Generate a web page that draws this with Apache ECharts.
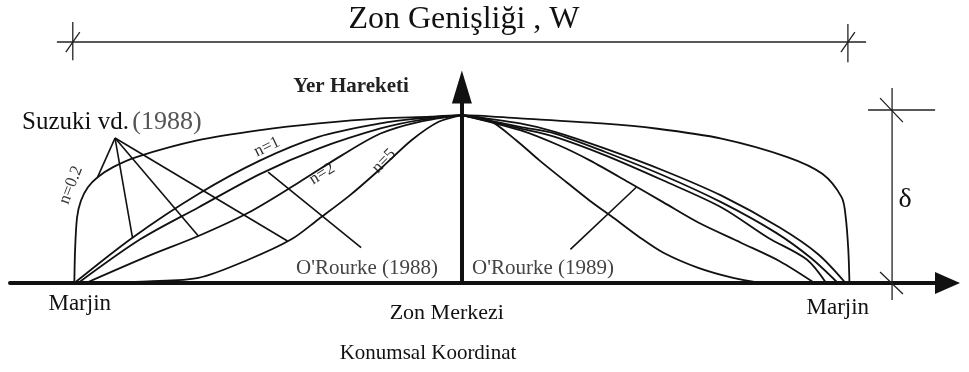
<!DOCTYPE html>
<html>
<head>
<meta charset="utf-8">
<script src="https://cdn.jsdelivr.net/npm/echarts@6/dist/echarts.min.js"></script>
<style>
  html, body { margin: 0; padding: 0; background: #fff; }
  #chart { width: 969px; height: 372px; }
</style>
</head>
<body>
<div id="chart"></div>
<script>
// x: position across the zone (-1 = marjin, 0 = zon merkezi, 1 = marjin)
// y: ground movement relative to the peak (delta = 1)
const tickValues = [-0.986, -0.039, 0.970]
const tickLabels = ['Marjin', 'Zon Merkezi', 'Marjin']

// Suzuki vd. (1988), n = 0.2 over the whole zone
const curveN02 = [[-1.00, 0], [-0.998, 0.20], [-0.993, 0.39], [-0.983, 0.49], [-0.965, 0.57], [-0.94, 0.63], [-0.90, 0.69],
  [-0.84, 0.75], [-0.68, 0.85], [-0.52, 0.91], [-0.37, 0.95], [-0.21, 0.98], [-0.08, 0.99], [0, 1],
  [0.15, 0.98], [0.36, 0.95], [0.50, 0.92], [0.67, 0.86], [0.84, 0.75], [0.93, 0.65], [0.98, 0.51],
  [0.99, 0.40], [0.997, 0.20], [1.0, 0]]

// left half
const curveN1a = [[-1.00, 0], [-0.85, 0.27], [-0.68, 0.53], [-0.52, 0.73], [-0.37, 0.87], [-0.21, 0.95], [-0.11, 0.98], [0, 1]]
const curveN1b = [[-0.99, 0], [-0.83, 0.26], [-0.68, 0.45], [-0.52, 0.65], [-0.37, 0.80], [-0.21, 0.92], [-0.11, 0.97], [0, 1]]
const curveN2 = [[-0.97, 0], [-0.81, 0.16], [-0.68, 0.28], [-0.55, 0.42], [-0.42, 0.60], [-0.31, 0.76], [-0.21, 0.89], [-0.11, 0.96], [0, 1]]
const curveN5 = [[-1.00, 0], [-0.81, 0.01], [-0.68, 0.03], [-0.55, 0.14], [-0.44, 0.26], [-0.37, 0.38], [-0.29, 0.52],
  [-0.21, 0.68], [-0.13, 0.85], [-0.06, 0.96], [0, 1]]

// right half (O'Rourke 1989 family)
const right1 = [[0, 1], [0.15, 0.95], [0.24, 0.90], [0.37, 0.80], [0.52, 0.67], [0.67, 0.52], [0.82, 0.33], [0.92, 0.17], [0.99, 0]]
const right2 = [[0, 1], [0.15, 0.93], [0.24, 0.89], [0.37, 0.78], [0.52, 0.64], [0.67, 0.48], [0.81, 0.30], [0.90, 0.15], [0.97, 0]]
const right3 = [[0, 1], [0.15, 0.92], [0.24, 0.87], [0.37, 0.76], [0.52, 0.61], [0.67, 0.45], [0.79, 0.27], [0.89, 0.14], [0.94, 0]]
const right4 = [[0, 1], [0.15, 0.91], [0.25, 0.82], [0.33, 0.73], [0.43, 0.60], [0.52, 0.48], [0.61, 0.36], [0.72, 0.24], [0.82, 0.13], [0.91, 0]]
const right5 = [[0, 1], [0.07, 0.97], [0.14, 0.85], [0.20, 0.73], [0.27, 0.60], [0.33, 0.49], [0.39, 0.39], [0.46, 0.27],
  [0.52, 0.18], [0.61, 0.09], [0.70, 0.03], [0.77, 0]]

// leader lines of the annotations
const suzukiLeaders = [
  [[-0.895, 0.863], [-0.94, 0.63]],
  [[-0.895, 0.863], [-0.85, 0.27]],
  [[-0.895, 0.863], [-0.68, 0.28]],
  [[-0.895, 0.863], [-0.45, 0.25]]
]
const orourke88Leader = [[-0.50, 0.66], [-0.26, 0.21]]
const orourke89Leader = [[0.45, 0.57], [0.28, 0.20]]

// dimension lines: zone width W and displacement delta
const widthDim = [
  [[-1.045, 1.435], [1.043, 1.435]],
  [[-1.004, 1.554], [-1.004, 1.327]],
  [[-1.022, 1.375], [-0.986, 1.494]],
  [[0.996, 1.542], [0.996, 1.315]],
  [[0.978, 1.375], [1.014, 1.494]]
]
const deltaDim = [
  [[1.110, 1.161], [1.110, -0.101]],
  [[1.048, 1.030], [1.221, 1.030]],
  [[1.079, 1.101], [1.138, 0.958]],
  [[1.079, 0.065], [1.138, -0.065]]
]

const curves = [curveN02, curveN1a, curveN1b, curveN2, curveN5, right1, right2, right3, right4, right5]
const font = 'Liberation Serif'

let myChart = echarts.init(document.getElementById('chart'))

let series = []
curves.forEach(c => {
  series.push({
    type: 'line', data: c, showSymbol: false, smooth: 0.3,
    lineStyle: { color: '#111', width: 1.8 }, z: 3, silent: true
  })
})
suzukiLeaders.concat([orourke88Leader, orourke89Leader]).forEach(seg => {
  series.push({
    type: 'line', data: seg, showSymbol: false,
    lineStyle: { color: '#111', width: 1.6 }, z: 3, silent: true
  })
})
widthDim.concat(deltaDim).forEach(seg => {
  series.push({
    type: 'line', data: seg, showSymbol: false, clip: false,
    lineStyle: { color: '#222', width: 1.3 }, z: 2, silent: true
  })
})

myChart.setOption({
  animation: false,
  backgroundColor: '#fff',
  grid: { left: 10, right: 21.5, top: 87, bottom: 89 },
  xAxis: {
    type: 'value', min: -1.166, max: 1.253,
    axisLine: { onZero: false, symbol: ['none', 'triangle'], symbolSize: [22, 25], lineStyle: { color: '#111', width: 4 } },
    axisTick: { show: false },
    splitLine: { show: false },
    axisLabel: {
      customValues: tickValues,
      margin: 9,
      formatter: function (v) {
        let i = tickValues.indexOf(v)
        return ['{l|', '{c|', '{r|'][i] + tickLabels[i] + '}'
      },
      rich: {
        l: { fontFamily: font, fontSize: 23, color: '#111', padding: [0, 0, 0, 0] },
        c: { fontFamily: font, fontSize: 22, color: '#111', padding: [10, 0, 0, 0] },
        r: { fontFamily: font, fontSize: 23, color: '#111', padding: [4, 0, 0, 0] }
      }
    }
  },
  yAxis: {
    type: 'value', min: 0, max: 1.167,
    axisLine: { onZero: true, symbol: ['none', 'triangle'], symbolSize: [20, 33], lineStyle: { color: '#111', width: 4 } },
    axisTick: { show: false },
    splitLine: { show: false },
    axisLabel: { show: false }
  },
  graphic: [
    { type: 'text', x: 464, y: 20, style: { text: 'Zon Genişliği , W', font: '32px "Liberation Serif"', fill: '#111', align: 'center', verticalAlign: 'middle' } },
    { type: 'text', x: 351, y: 87, style: { text: 'Yer Hareketi', font: 'bold 21px "Liberation Serif"', fill: '#222', align: 'center', verticalAlign: 'middle' } },
    {
      type: 'text', x: 22, y: 122,
      style: {
        text: '{a|Suzuki vd.} {b|(1988)}', align: 'left', verticalAlign: 'middle',
        rich: {
          a: { fontFamily: font, fontSize: 25, fill: '#111' },
          b: { fontFamily: font, fontSize: 26, fill: '#555' }
        }
      }
    },
    { type: 'text', x: 296, y: 268, style: { text: "O'Rourke (1988)", font: '21px "Liberation Serif"', fill: '#444', align: 'left', verticalAlign: 'middle' } },
    { type: 'text', x: 472, y: 268, style: { text: "O'Rourke (1989)", font: '21px "Liberation Serif"', fill: '#444', align: 'left', verticalAlign: 'middle' } },
    { type: 'text', x: 71, y: 185, rotation: 1.2, style: { text: 'n=0.2', font: '17px "Liberation Serif"', fill: '#333', align: 'center', verticalAlign: 'middle' } },
    { type: 'text', x: 267, y: 147, rotation: 0.45, style: { text: 'n=1', font: '17px "Liberation Serif"', fill: '#333', align: 'center', verticalAlign: 'middle' } },
    { type: 'text', x: 322, y: 174, rotation: 0.55, style: { text: 'n=2', font: '17px "Liberation Serif"', fill: '#333', align: 'center', verticalAlign: 'middle' } },
    { type: 'text', x: 384, y: 161, rotation: 0.8, style: { text: 'n=5', font: '17px "Liberation Serif"', fill: '#333', align: 'center', verticalAlign: 'middle' } },
    { type: 'text', x: 905, y: 200, style: { text: 'δ', font: '28px "Liberation Serif"', fill: '#111', align: 'center', verticalAlign: 'middle' } },
    { type: 'text', x: 428, y: 353, style: { text: 'Konumsal Koordinat', font: '21px "Liberation Serif"', fill: '#111', align: 'center', verticalAlign: 'middle' } }
  ],
  series: series
})
</script>
</body>
</html>
